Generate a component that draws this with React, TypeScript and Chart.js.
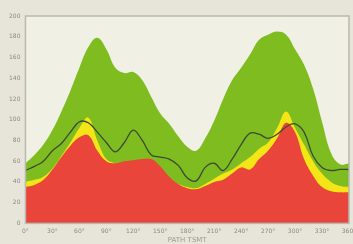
import React, { useEffect, useRef } from "react";
import { Chart, registerables } from "chart.js";

Chart.register(...registerables);

const angles = [0,10,20,30,40,50,60,70,80,90,100,110,120,130,140,150,160,170,180,190,200,210,220,230,240,250,260,270,280,290,300,310,320,330,340,350,360];
const greenVals = [58,66,76,90,108,128,150,170,179,168,150,145,146,138,122,106,96,84,74,70,82,99,120,138,150,163,177,182,185,182,168,153,130,98,68,57,58];
const lineVals = [51,55,60,70,77,88,98,97,88,78,69,78,90,80,66,64,62,56,44,41,54,58,51,62,76,87,86,82,86,93,96,88,65,54,51,52,52];
const yellowVals = [40,42,45,53,65,78,92,102,80,62,58,58,59,61,56,47,42,38,35,34,38,43,48,52,58,64,72,78,92,108,92,76,60,48,40,36,35];
const redVals = [35,37,42,52,64,75,83,85,70,60,58,60,61,62,62,55,45,38,34,33,36,40,42,48,54,52,62,70,82,97,88,62,46,35,31,30,30];
const xTicks = [0,30,60,90,120,150,180,210,240,270,300,330,360];
const yTicks = [0,20,40,60,80,100,120,140,160,180,200];
const xTitle = "PATH TSMT";

const pts = (vals: number[]) => angles.map((a, i) => ({ x: a, y: vals[i] }));

const bgPlugin = {
  id: "plotBg",
  beforeDraw(chart: any) {
    const { ctx, chartArea } = chart;
    ctx.save();
    ctx.fillStyle = "#f1f0e4";
    ctx.fillRect(chartArea.left, chartArea.top, chartArea.right - chartArea.left, chartArea.bottom - chartArea.top);
    ctx.restore();
  },
  afterDraw(chart: any) {
    const { ctx, chartArea } = chart;
    ctx.save();
    ctx.strokeStyle = "#b9b9b0";
    ctx.lineWidth = 1.5;
    ctx.strokeRect(chartArea.left, chartArea.top, chartArea.right - chartArea.left, chartArea.bottom - chartArea.top);
    ctx.restore();
  },
};

export default function App() {
  const ref = useRef<HTMLCanvasElement>(null);
  useEffect(() => {
    document.body.style.margin = "0";
    const chart = new Chart(ref.current!, {
      type: "line",
      data: {
        datasets: [
          { data: pts(lineVals), borderColor: "#3b4a36", borderWidth: 1.3, fill: false, pointRadius: 0, tension: 0.4 },
          { data: pts(redVals), borderColor: "#e9453a", backgroundColor: "#e9453a", borderWidth: 0, fill: "origin", pointRadius: 0, tension: 0.4 },
          { data: pts(yellowVals), borderColor: "#f3e516", backgroundColor: "#f3e516", borderWidth: 0, fill: "origin", pointRadius: 0, tension: 0.4 },
          { data: pts(greenVals), borderColor: "#7fbc20", backgroundColor: "#7fbc20", borderWidth: 0, fill: "origin", pointRadius: 0, tension: 0.4 },
        ],
      },
      options: {
        animation: false,
        responsive: false,
        maintainAspectRatio: false,
        layout: { padding: { top: 16, right: 4, left: 7, bottom: 0 } },
        plugins: { legend: { display: false }, tooltip: { enabled: false } },
        scales: {
          x: {
            type: "linear",
            min: 0,
            max: 360,
            afterBuildTicks: (axis: any) => { axis.ticks = xTicks.map((v) => ({ value: v })); },
            afterFit: (axis: any) => { axis.paddingRight = 0; },
            grid: { display: false, drawTicks: true, tickLength: 3, color: "#9a9a92" },
            border: { display: false },
            ticks: { font: { size: 6, family: "DejaVu Sans" }, color: "#8a8a82", padding: 1, maxRotation: 0, autoSkip: false, callback: (v: any) => v + "°" },
            title: { display: true, text: xTitle, font: { size: 7, family: "DejaVu Sans" }, color: "#9a9a92", padding: { top: 0, bottom: 0 } },
          },
          y: {
            min: 0,
            max: 200,
            afterBuildTicks: (axis: any) => { axis.ticks = yTicks.map((v) => ({ value: v })); },
            grid: { display: false, tickLength: 3 },
            border: { display: false },
            ticks: { font: { size: 6, family: "DejaVu Sans" }, color: "#8a8a82", padding: 2 },
          },
        },
      },
      plugins: [bgPlugin],
    });
    return () => chart.destroy();
  }, []);
  return (
    <div style={{ position: "absolute", left: 0, top: 0, width: 353, height: 244, background: "#e7e5da" }}>
      <canvas ref={ref} width={353} height={244} style={{ width: 353, height: 244, display: "block" }} />
    </div>
  );
}
